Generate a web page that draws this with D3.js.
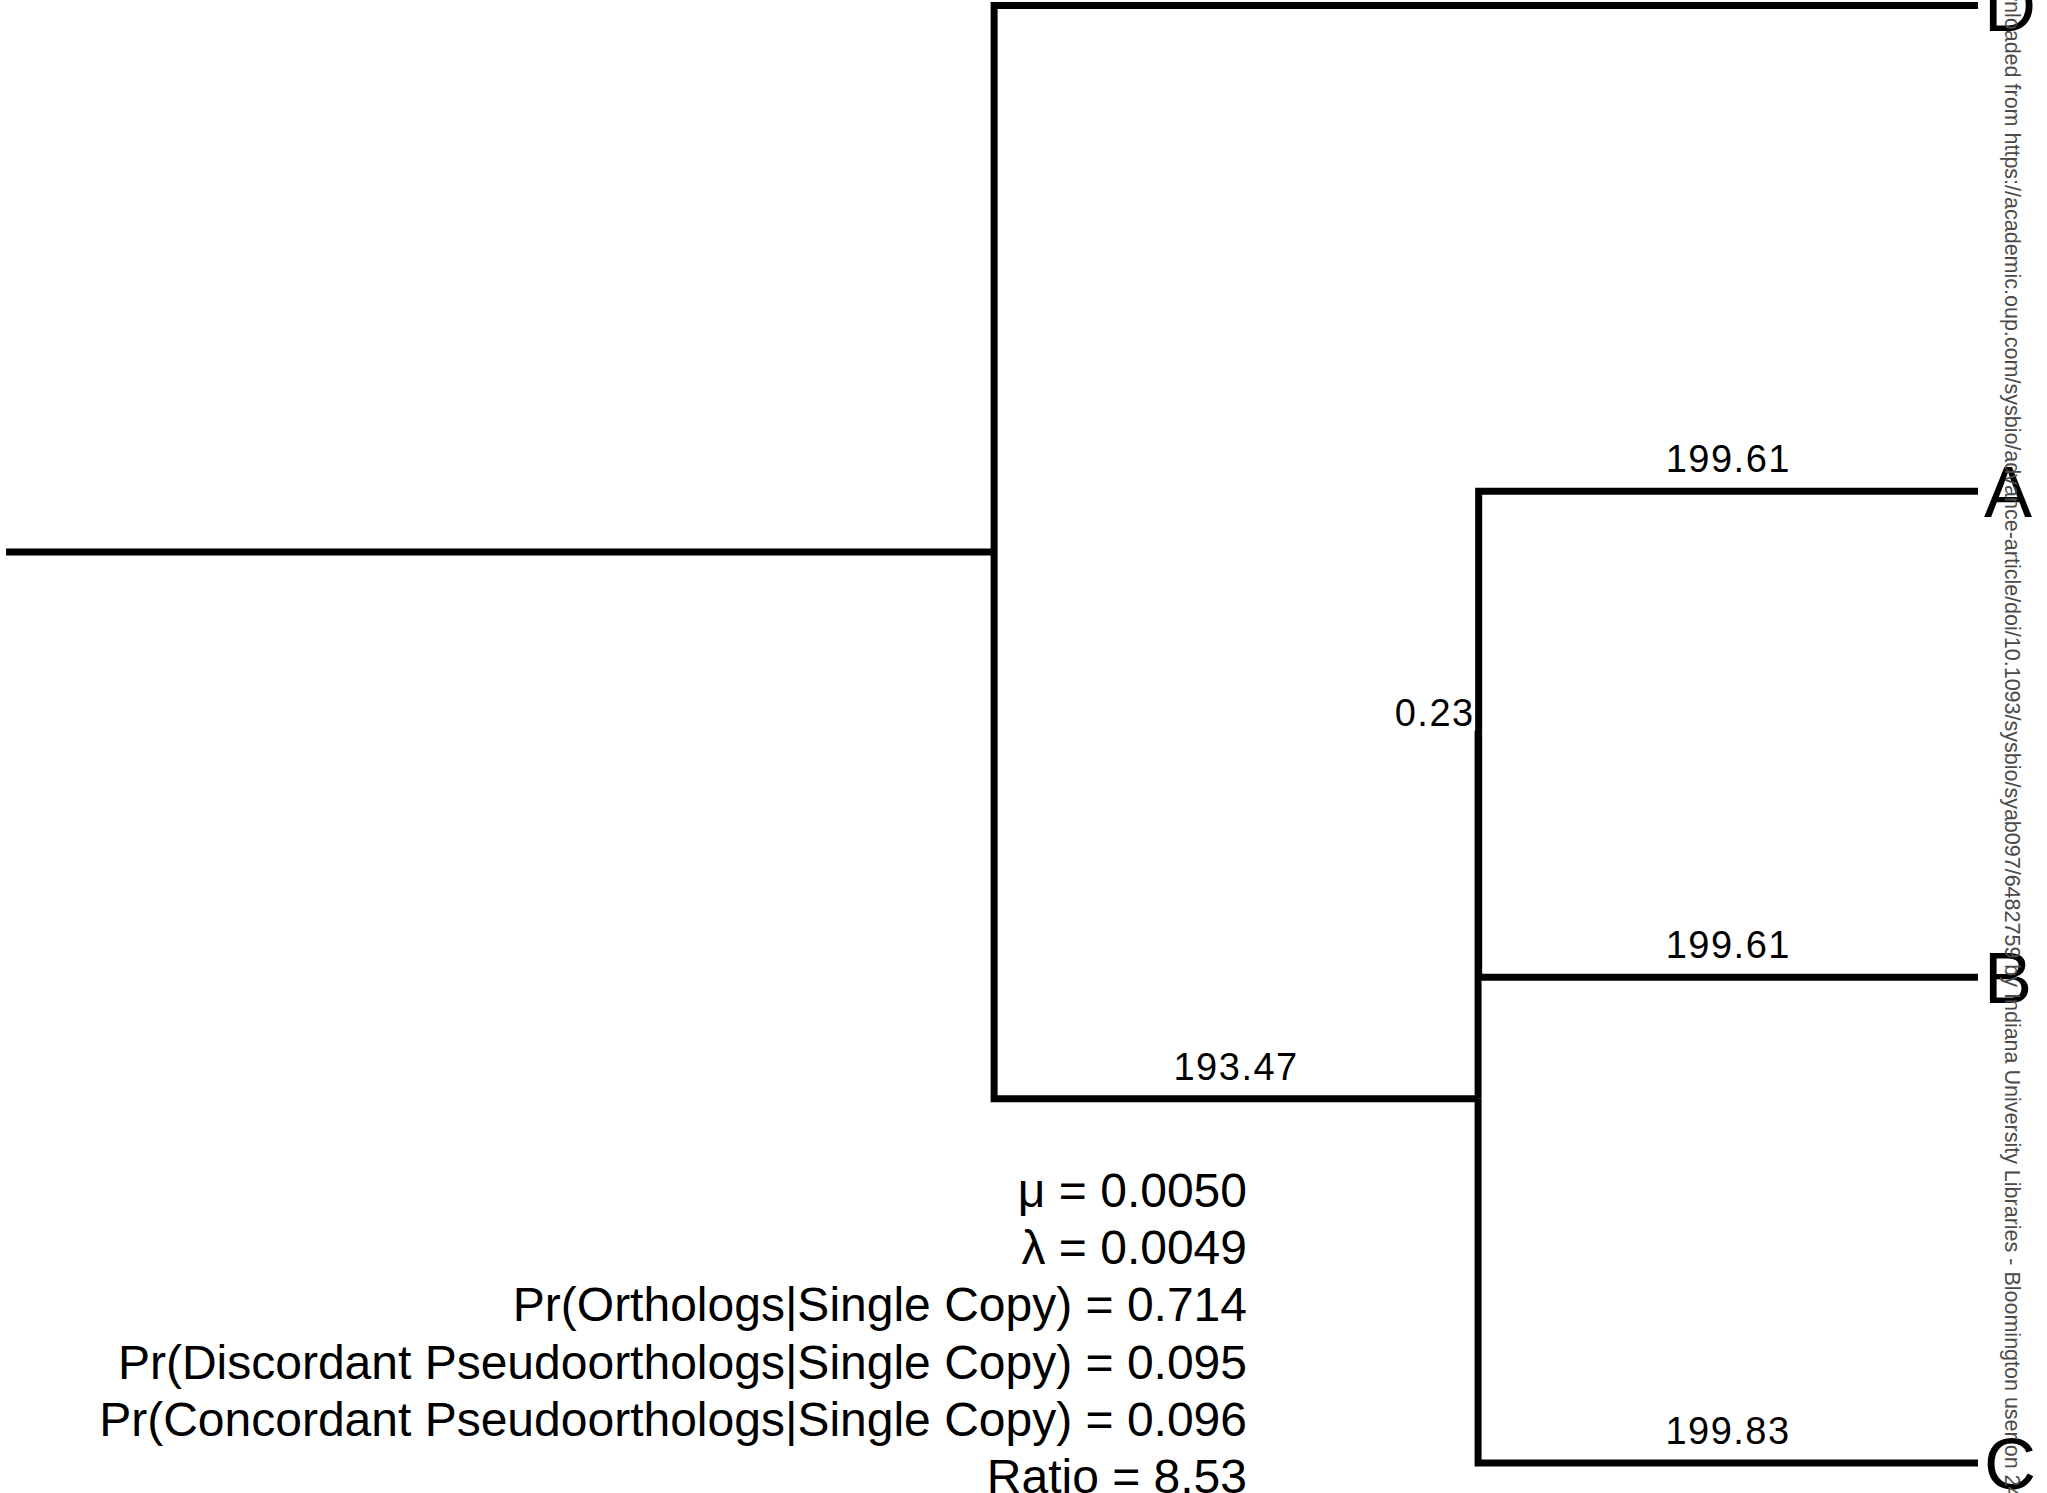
<!DOCTYPE html>
<html>
<head>
<meta charset="utf-8">
<script src="https://cdn.jsdelivr.net/npm/d3@7"></script>
<style>
  html, body { margin: 0; padding: 0; background: #ffffff; }
  svg { display: block; }
</style>
</head>
<body>
<script>
// Tree topology: each node with its parent and the length of the branch leading to it
const nodeIds       = ["root", "R", "D", "N2", "N3", "A", "B", "C"];
const parentIds     = [null, "root", "R", "R", "N2", "N3", "N3", "N2"];
const branchLengths = [0, 395, 393.31, 193.47, 0.23, 199.61, 199.61, 199.83];
// Branches that carry a printed length
const labelledBranches = ["N2", "N3", "A", "B", "C"];
// Tip order from top to bottom
const tipOrder = ["D", "A", "B", "C"];

// Model estimates printed under the tree
const paramNames  = ["μ", "λ", "Pr(Orthologs|Single Copy)",
                     "Pr(Discordant Pseudoorthologs|Single Copy)",
                     "Pr(Concordant Pseudoorthologs|Single Copy)", "Ratio"];
const paramValues = ["0.0050", "0.0049", "0.714", "0.095", "0.096", "8.53"];

const creditLine = "Downloaded from https://academic.oup.com/sysbio/advance-article/doi/10.1093/sysbio/syab097/6482759 by Indiana University Libraries - Bloomington user on 24 March 2022";

const W = 2047, H = 1493;
const svg = d3.select("body").append("svg")
  .attr("width", W).attr("height", H)
  .attr("viewBox", `0 0 ${W} ${H}`);

const rows = nodeIds.map((id, i) => ({ id, parentId: parentIds[i], length: branchLengths[i] }));
const root = d3.stratify().id(d => d.id).parentId(d => d.parentId)(rows);

// cumulative distance from the root
root.each(n => { n.dist = (n.parent ? n.parent.dist : 0) + n.data.length; });
const maxDist = d3.max(root.leaves(), n => n.dist);

const x = d3.scaleLinear().domain([0, maxDist]).range([6, 1978]);
const y = d3.scaleLinear().domain([0, tipOrder.length - 1]).range([5.5, 1463]);

// tips at their row, internal nodes centred on their children
root.eachAfter(n => {
  if (!n.children) n.yv = y(tipOrder.indexOf(n.id));
  else n.yv = d3.mean(n.children, c => c.yv);
  n.xv = x(n.dist);
});

const font = "'Liberation Sans', Arial, Helvetica, sans-serif";

// rectangular (elbow) branches
svg.append("g")
  .selectAll("path")
  .data(root.descendants().filter(n => n.parent))
  .join("path")
  .attr("d", n => `M${n.parent.xv},${n.parent.yv}V${n.yv}H${n.xv}`)
  .attr("fill", "none")
  .attr("stroke", "#000")
  .attr("stroke-width", 7)
  .attr("stroke-linejoin", "miter")
  .attr("stroke-linecap", "butt");

// branch length labels
const blFont = 38;
const bl = svg.append("g")
  .attr("font-family", font)
  .attr("font-size", blFont)
  .attr("letter-spacing", 1.5)
  .attr("fill", "#000");

root.descendants().filter(n => labelledBranches.includes(n.id)).forEach(n => {
  const span = n.xv - n.parent.xv;
  const txt = d3.format(".2f")(n.data.length);
  if (span > 150) {
    bl.append("text")
      .attr("x", (n.xv + n.parent.xv) / 2)
      .attr("y", n.yv - 19)
      .attr("text-anchor", "middle")
      .text(txt);
  } else {
    // too short to hold its label: print it just left of the node
    bl.append("text")
      .attr("x", n.xv - 4)
      .attr("y", n.yv - 8)
      .attr("text-anchor", "end")
      .text(txt);
  }
});

// tip labels
svg.append("g")
  .attr("font-family", font)
  .attr("font-size", 72)
  .attr("fill", "#000")
  .selectAll("text")
  .data(root.leaves())
  .join("text")
  .attr("x", n => n.xv + 6)
  .attr("y", n => n.yv)
  .attr("dy", "0.36em")
  .text(n => n.id);

// parameter block, right aligned
svg.append("g")
  .attr("font-family", font)
  .attr("font-size", 48)
  .attr("fill", "#000")
  .attr("text-anchor", "end")
  .selectAll("text")
  .data(paramNames)
  .join("text")
  .attr("x", 1247)
  .attr("y", (d, i) => 1207 + i * 57.2)
  .text((d, i) => `${d} = ${paramValues[i]}`);

// vertical download credit along the right edge
svg.append("text")
  .attr("transform", "translate(2005,-42) rotate(90)")
  .attr("font-family", font)
  .attr("font-size", 21.5)
  .attr("fill", "#4a4a4a")
  .text(creditLine);
</script>
</body>
</html>
